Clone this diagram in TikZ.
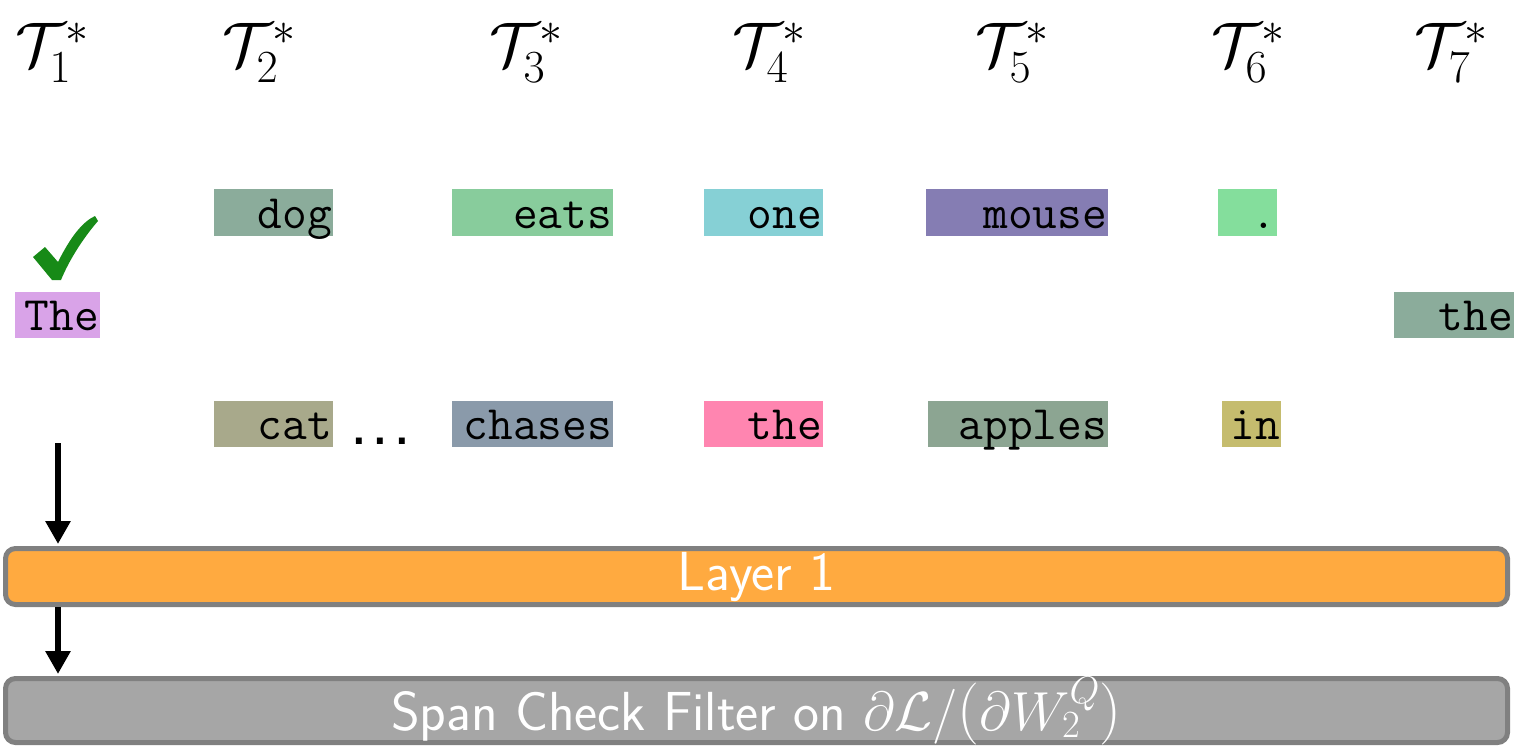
\RequirePackage{fix-cm}
\documentclass[tikz,border=0pt]{standalone}
\usepackage{fontspec}
\newfontfamily\dotsfont{DejaVu Sans Mono}
\usetikzlibrary{arrows.meta}
\newcommand{\subsz}[1]{\mbox{\fontsize{46}{46}\selectfont$#1$}}
\newcommand{\bigparen}[1]{\mbox{\rmfamily\fontsize{62}{62}\selectfont\raisebox{1pt}{#1}}}
\definecolor{cThe}{HTML}{D9A3E8}
\definecolor{cdog}{HTML}{8BAC9B}
\definecolor{ccat}{HTML}{A8A98B}
\definecolor{ceats}{HTML}{88CC9C}
\definecolor{cchases}{HTML}{8A9AAA}
\definecolor{cone}{HTML}{86D0D5}
\definecolor{cthe}{HTML}{FF85B0}
\definecolor{cmouse}{HTML}{857DB3}
\definecolor{capples}{HTML}{8CA592}
\definecolor{cdot}{HTML}{84DE9C}
\definecolor{cin}{HTML}{C5BC6E}
\definecolor{layerfill}{HTML}{FFAA40}
\definecolor{spanfill}{HTML}{A6A6A6}
\definecolor{boxborder}{HTML}{808080}
\definecolor{checkgreen}{HTML}{178A17}
\tikzset{
  tok/.style={fill=#1, inner xsep=1pt, inner ysep=0pt, text height=38.5pt, text depth=7.5pt,
    align=right, font=\ttfamily\fontsize{48}{48}\selectfont},
  tlabel/.style={anchor=base west, inner sep=0pt, font=\fontsize{63}{63}\selectfont},
  bar/.style={draw=boxborder, line width=5pt, rounded corners=10pt, inner sep=0pt,
    text=white, font=\sffamily\fontsize{55}{55}\selectfont, text height=40pt},
  arr/.style={line width=6pt, -{Triangle[width=24pt,length=23pt]}, shorten >=2pt}
}
\begin{document}
\begin{tikzpicture}[x=1pt,y=-1pt]
\useasboundingbox (0,0) rectangle (1514,746);
% header labels
\node[tlabel] (T1) at (15,67) {$\mathcal{T}_{\subsz{1}}^{\subsz{*}}$};
\node[tlabel] (T2) at (222,67) {$\mathcal{T}_{\subsz{2}}^{\subsz{*}}$};
\node[tlabel] (T3) at (489,67) {$\mathcal{T}_{\subsz{3}}^{\subsz{*}}$};
\node[tlabel] (T4) at (732,67) {$\mathcal{T}_{\subsz{4}}^{\subsz{*}}$};
\node[tlabel] (T5) at (975,67) {$\mathcal{T}_{\subsz{5}}^{\subsz{*}}$};
\node[tlabel] (T6) at (1211,67) {$\mathcal{T}_{\subsz{6}}^{\subsz{*}}$};
\node[tlabel] (T7) at (1414,67) {$\mathcal{T}_{\subsz{7}}^{\subsz{*}}$};
% top row
\node[tok=cdog, text width=117pt] (dog) at (273.5,212.5) {dog};
\node[tok=ceats, text width=159pt] (eats) at (532.5,212.5) {eats};
\node[tok=cone, text width=117pt] (one) at (763.5,212.5) {one};
\node[tok=cmouse, text width=180pt] (mouse) at (1017,212.5) {mouse};
\node[tok=cdot, text width=57pt] (dot) at (1247.5,212.5) {.};
% middle row
\node[tok=cThe, text width=83pt] (The) at (57.5,314.5) {The};
\node[tok=cdog, text width=118pt] (the2) at (1454,314.5) {the};
% bottom row
\node[tok=ccat, text width=117pt] (cat) at (273.5,424) {cat};
\node[tok=cchases, text width=159pt] (chases) at (532.5,424) {chases};
\node[tok=cthe, text width=117pt] (the) at (763.5,424) {the};
\node[tok=capples, text width=178pt] (apples) at (1018,424) {apples};
\node[tok=cin, text width=57pt] (in) at (1251.5,424) {in};
\node[anchor=base west, inner sep=0pt, font=\dotsfont\bfseries\fontsize{36}{36}\selectfont] (dots) at (348,444) {...};
% check mark
\fill[checkgreen] (33,257) -- (45,247) -- (58,262) .. controls (70,238) and (82,222) .. (95,216)
  -- (98,221) .. controls (85,236) and (70,258) .. (61,280) -- (52,280) -- cycle;
% bars
\node[bar, fill=layerfill, minimum width=1502pt, minimum height=56pt, text depth=13pt] (layer) at (756.5,576.5) {Layer 1};
\node[bar, fill=spanfill, minimum width=1502pt, minimum height=64pt, text depth=1pt] (span) at (756.5,710.5)
  {Span Check Filter on $\partial\mathcal{L}/\bigparen{(}\partial W_2^Q\bigparen{)}$};
% arrows
\coordinate (a1) at (58,443);
\draw[arr] (a1) -- (layer.north -| a1);
\draw[arr] (layer.south -| a1) -- (span.north -| a1);
\end{tikzpicture}
\end{document}
